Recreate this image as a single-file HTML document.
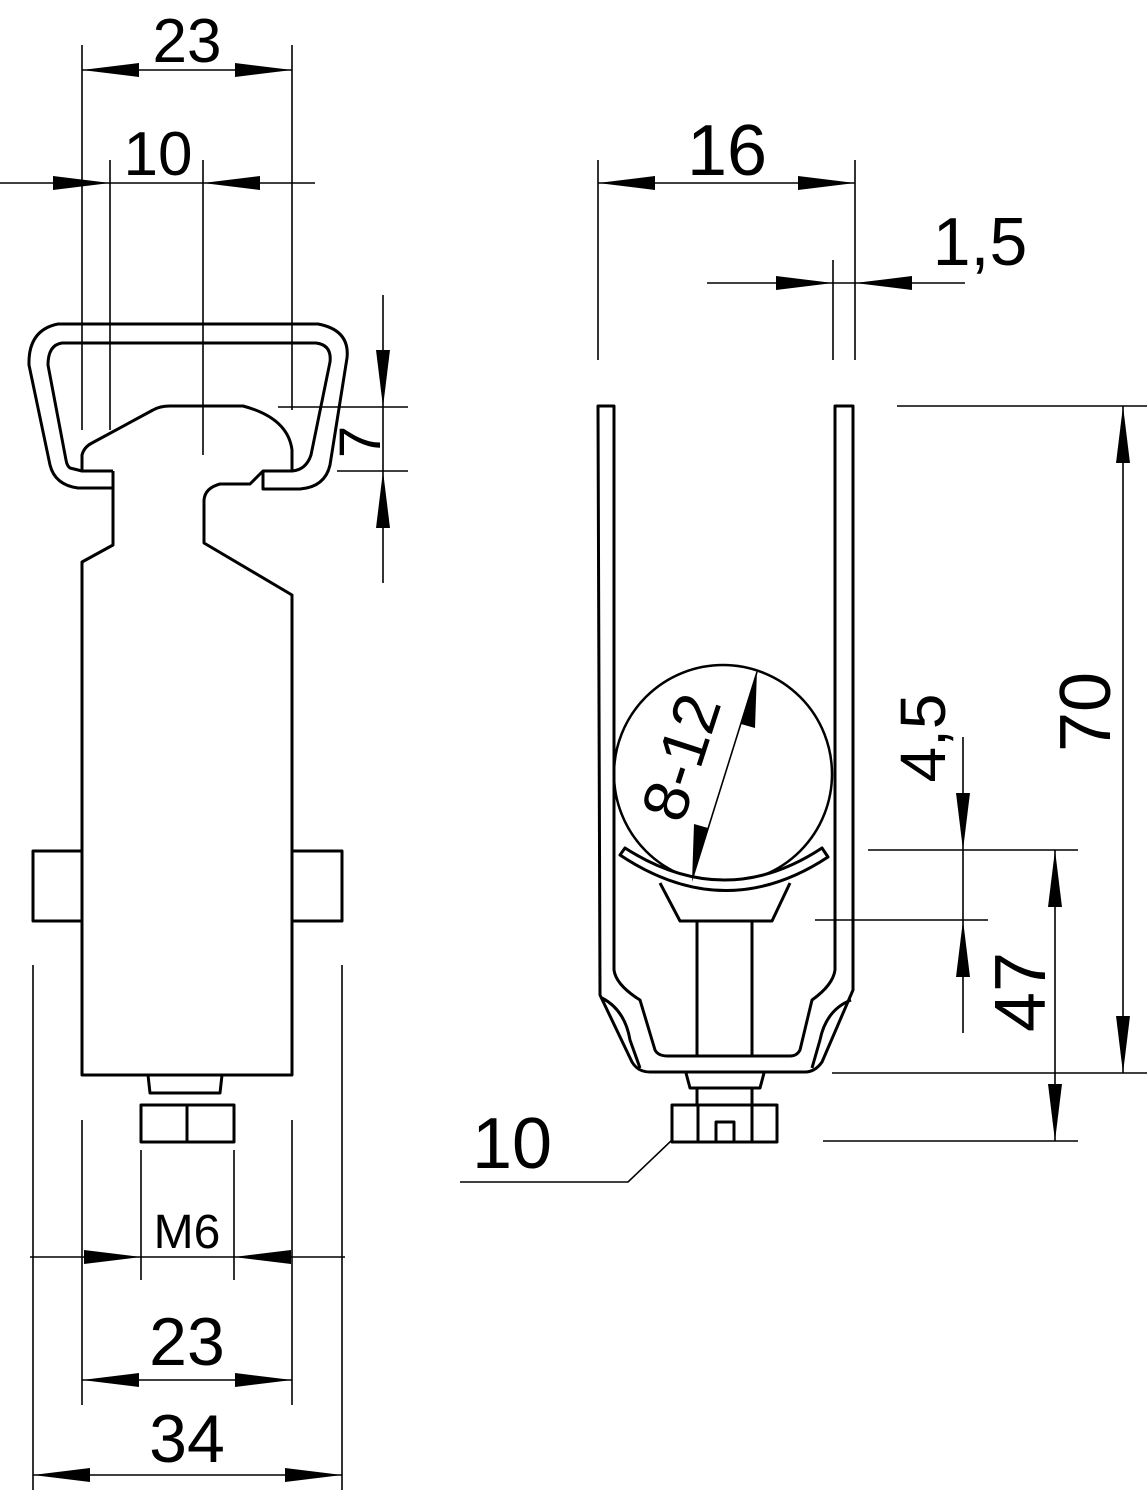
<!DOCTYPE html>
<html><head><style>html,body{margin:0;padding:0;background:#fff}svg{display:block}
text{font-family:"Liberation Sans",sans-serif;fill:#000}</style></head><body>
<svg width="1147" height="1500" viewBox="0 0 1147 1500" xmlns="http://www.w3.org/2000/svg">
<g stroke="#000" fill="none" stroke-width="1.6">
<line x1="82" y1="45" x2="82" y2="430"/><line x1="292" y1="45" x2="292" y2="410"/>
<line x1="82" y1="70" x2="292" y2="70"/>
<line x1="110" y1="160" x2="110" y2="430"/><line x1="203" y1="160" x2="203" y2="455"/>
<line x1="0" y1="183" x2="315" y2="183"/>
<line x1="278" y1="407" x2="408" y2="407"/><line x1="337" y1="471" x2="408" y2="471"/>
<line x1="383" y1="295" x2="383" y2="583"/>
<line x1="33" y1="965" x2="33" y2="1490"/><line x1="342" y1="965" x2="342" y2="1490"/>
<line x1="82" y1="1120" x2="82" y2="1405"/><line x1="292" y1="1120" x2="292" y2="1405"/>
<line x1="141" y1="1150" x2="141" y2="1280"/><line x1="234" y1="1150" x2="234" y2="1280"/>
<line x1="30" y1="1257" x2="345" y2="1257"/>
<line x1="82" y1="1380" x2="292" y2="1380"/>
<line x1="33" y1="1475" x2="342" y2="1475"/>
</g>
<g stroke="#000" fill="none" stroke-width="3" stroke-linejoin="round">
<path d="M113,488 L78,488 Q55,485 50,465 L29,365 Q28,330 58,324 L318,324 Q350,330 347,358 L330,465 Q325,487 300,489 L263,489 L263,472"/>
<path d="M82,471 L70,468 Q67,466 66,460 L48,365 Q48,345 62,343 L316,343 Q332,345 330,362 L311,455 Q306,470 292,471"/>
<path d="M113,471 L82,471 L82,455 Q84,447 92,443 L153,410 Q160,406 170,406 L243,406 Q288,418 292,450 L292,471 L263,471 L250,484 L220,484 Q205,488 204,500 L204,543 L292,595 L292,1075 L82,1075 L82,562 L113,545 L113,471"/>
<rect x="33" y="851" width="49" height="70"/><rect x="292" y="851" width="50" height="70"/>
<path d="M148,1075 L150,1093 L220,1093 L222,1075"/>
<rect x="141" y="1105" width="93" height="37"/><line x1="187" y1="1105" x2="187" y2="1142"/>
</g>
<g fill="#000">
<path d="M82,70 l57,-7 v14z"/><path d="M292,70 l-57,-7 v14z"/>
<path d="M110,183 l-57,-7 v14z"/><path d="M203,183 l57,-7 v14z"/>
<path d="M383,407 l-7,-57 h14z"/><path d="M383,471 l-7,57 h14z"/>
<path d="M141,1257 l-57,-7 v14z"/><path d="M234,1257 l57,-7 v14z"/>
<path d="M82,1380 l57,-7 v14z"/><path d="M292,1380 l-57,-7 v14z"/>
<path d="M33,1475 l57,-7 v14z"/><path d="M342,1475 l-57,-7 v14z"/>
</g>
<text x="187" y="62" font-size="62" text-anchor="middle">23</text>
<text x="158" y="175" font-size="62" text-anchor="middle">10</text>
<text transform="translate(380,442) rotate(-90)" font-size="58" text-anchor="middle">7</text>
<text x="187" y="1248" font-size="48" text-anchor="middle">M6</text>
<text x="187" y="1365" font-size="68" text-anchor="middle">23</text>
<text x="187" y="1462" font-size="68" text-anchor="middle">34</text>

<g stroke="#000" fill="none" stroke-width="1.6">
<line x1="598" y1="160" x2="598" y2="360"/><line x1="855" y1="160" x2="855" y2="360"/>
<line x1="833" y1="260" x2="833" y2="360"/>
<line x1="598" y1="183" x2="855" y2="183"/>
<line x1="707" y1="283" x2="965" y2="283"/>
<line x1="897" y1="406" x2="1147" y2="406"/>
<line x1="1123" y1="406" x2="1123" y2="1073"/>
<line x1="868" y1="850" x2="1078" y2="850"/>
<line x1="815" y1="920" x2="988" y2="920"/>
<line x1="832" y1="1073" x2="1147" y2="1073"/>
<line x1="823" y1="1141" x2="1078" y2="1141"/>
<line x1="963" y1="737" x2="963" y2="1033"/>
<line x1="1055" y1="850" x2="1055" y2="1141"/>
<line x1="757" y1="672" x2="692" y2="880"/>
<path d="M460,1182 L628,1182 L672,1140"/>
</g>
<g stroke="#000" fill="none" stroke-width="3" stroke-linejoin="round">
<path d="M598,406 L614,406 L614,970 Q616,985 640,1000 L655,1050 Q658,1056 668,1056 L790,1056 Q797,1056 800,1050 L812,1000 Q833,985 835,970 L835,406 L853,406 L853,990 L822,1062 Q815,1072 805,1072 L650,1072 Q638,1072 632,1062 L600,995 Z"/>
<path d="M602,998 Q625,1010 630,1040 L640,1068"/>
<path d="M851,1000 Q826,1010 820,1040 L812,1068"/>
<circle cx="723" cy="774" r="109" stroke-width="2.5"/>
<path d="M620,855 L625,848 Q725,912 822,848 L828,857 Q725,925 620,855 Z" fill="#fff"/>
<path d="M660,883 L680,921 L772,921 L790,883"/>
<line x1="697" y1="921" x2="697" y2="1056"/><line x1="752" y1="921" x2="752" y2="1056"/>
<path d="M686,1073 L690,1088 L760,1088 L764,1073"/>
<line x1="697" y1="1088" x2="697" y2="1105"/><line x1="752" y1="1088" x2="752" y2="1105"/>
<rect x="672" y="1105" width="105" height="37"/>
<path d="M698,1105 V1142 M752,1105 V1142 M716,1142 V1122 H734 V1142"/>
</g>
<g fill="#000">
<path d="M598,183 l57,-7 v14z"/><path d="M855,183 l-57,-7 v14z"/>
<path d="M833,283 l-57,-7 v14z"/><path d="M855,283 l57,-7 v14z"/>
<path d="M1123,406 l-7,57 h14z"/><path d="M1123,1073 l-7,-57 h14z"/>
<path d="M963,850 l-7,-57 h14z"/><path d="M963,920 l-7,57 h14z"/>
<path d="M1055,850 l-7,57 h14z"/><path d="M1055,1141 l-7,-57 h14z"/>
<path d="M757,670 l-2,58 l-14,-4z"/><path d="M692,882 l2,-58 l14,4z"/>
</g>
<text x="727" y="175" font-size="72" text-anchor="middle">16</text>
<text x="980" y="265" font-size="68" text-anchor="middle">1,5</text>
<text transform="translate(1110,712) rotate(-90)" font-size="72" text-anchor="middle">70</text>
<text transform="translate(945,738) rotate(-90)" font-size="64" text-anchor="middle">4,5</text>
<text transform="translate(1045,992) rotate(-90)" font-size="72" text-anchor="middle">47</text>
<text transform="translate(702,764) rotate(-72)" font-size="64" text-anchor="middle">8-12</text>
<text x="512" y="1168" font-size="72" text-anchor="middle">10</text>
</svg>
</body></html>
